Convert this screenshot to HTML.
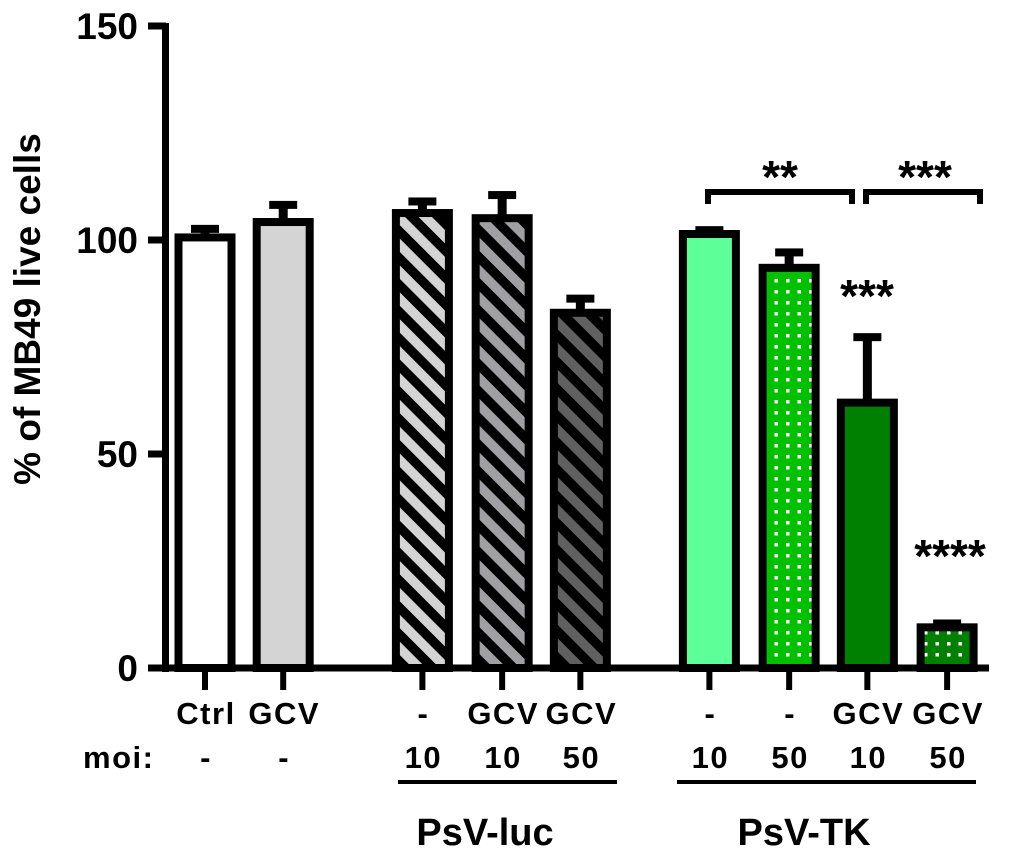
<!DOCTYPE html>
<html><head><meta charset="utf-8"><style>
html,body{margin:0;padding:0;background:#fff;}
svg text{font-family:"Liberation Sans",Arial,sans-serif;font-weight:bold;fill:#000;}
</style></head><body>
<svg id="chart" width="1024" height="862" viewBox="0 0 1024 862" xmlns="http://www.w3.org/2000/svg">
<defs>
<pattern id="hatch1" width="19" height="19" patternUnits="userSpaceOnUse" patternTransform="rotate(-45)"><rect width="19" height="19" fill="#d4d4d4"/><rect width="9.5" height="19" fill="#000"/></pattern>
<pattern id="hatch2" width="19" height="19" patternUnits="userSpaceOnUse" patternTransform="rotate(-45)"><rect width="19" height="19" fill="#a0a0a4"/><rect width="9.5" height="19" fill="#000"/></pattern>
<pattern id="hatch3" width="19" height="19" patternUnits="userSpaceOnUse" patternTransform="rotate(-45)"><rect width="19" height="19" fill="#606060"/><rect width="9.5" height="19" fill="#000"/></pattern>
<pattern id="dots1" width="11.5" height="11" patternUnits="userSpaceOnUse"><rect width="11.5" height="11" fill="#00c000"/><rect x="4" y="4" width="3.5" height="3.5" fill="#fff"/></pattern>
<pattern id="dots2" width="11.5" height="11" patternUnits="userSpaceOnUse"><rect width="11.5" height="11" fill="#008000"/><rect x="4" y="4" width="3.5" height="3.5" fill="#fff"/></pattern>
</defs>
<g id="bars"></g>
<g id="axes"></g>
<g id="labels"></g>
</svg>
<script>
const categories = ["Ctrl","GCV","luc-10","luc-GCV-10","luc-GCV-50","TK-10","TK-50","TK-GCV-10","TK-GCV-50"];
const values = [100.6, 104.2, 106.3, 105.1, 83.0, 101.4, 93.5, 62.0, 9.5];
const errors = [2.0, 4.0, 2.7, 5.4, 3.3, 0.9, 3.6, 15.3, 0.9];
const treatLabels = ["Ctrl","GCV","-","GCV","GCV","-","-","GCV","GCV"];
const moiLabels = ["-","-","10","10","50","10","50","10","50"];
const yTicks = [0, 50, 100, 150];
const fills = ["#ffffff","#d4d4d4","url(#hatch1)","url(#hatch2)","url(#hatch3)","#5cff98","url(#dots1)","#008000","url(#dots2)"];
const slots = [0, 1, 2.78, 3.8, 4.8, 6.45, 7.47, 8.47, 9.49];

const NS = "http://www.w3.org/2000/svg";
const y0 = 668, pxPerUnit = 642/150;
function yScale(v){ return y0 - v*pxPerUnit; }
function xScale(i){ return 205 + slots[i]*78.2; }
function mk(tag, attrs, parent){ const e=document.createElementNS(NS,tag); for(const k in attrs) e.setAttribute(k,attrs[k]); parent.appendChild(e); return e; }
const bars=document.getElementById('bars'), axes=document.getElementById('axes'), labels=document.getElementById('labels');
const bw = 53;
values.forEach((v,i)=>{
  const cx=xScale(i), yt=yScale(v);
  const eTop=yScale(v+errors[i]);
  const eb=mk('rect',{x:cx-4.5,y:eTop,width:9,height:yt-eTop},bars);
  
  
  const cap=mk('rect',{x:cx-14,y:eTop-4,width:28,height:8},bars);
  
  
  const r=mk('rect',{x:cx-bw/2,y:yt,width:bw,height:y0-yt,fill:fills[i],stroke:'#000','stroke-width':8},bars);
  
  
  const t=mk('rect',{x:cx-3,y:y0,width:6,height:22},axes);
  
  
  const l1=mk('text',{x:cx+1,y:724,'font-size':31,'text-anchor':'middle','letter-spacing':1.5},labels); l1.textContent=treatLabels[i];
  
  
  const l2=mk('text',{x:cx+1,y:768,'font-size':31,'text-anchor':'middle','letter-spacing':1.5},labels); l2.textContent=moiLabels[i];
  
  
});
const yl=mk('rect',{x:162,y:23,width:7,height:649},axes);


const xl=mk('rect',{x:162,y:y0-3.5,width:827,height:7},axes);


yTicks.forEach(v=>{
  const yy=yScale(v);
  const tk=mk('rect',{x:148,y:yy-3.5,width:18,height:7},axes);
  
  
  const tl=mk('text',{x:138,y:yy+13,'font-size':37,'text-anchor':'end'},labels); tl.textContent=v;
  
  
});
</script>
<svg style="position:absolute;left:0;top:0" width="1024" height="862" xmlns="http://www.w3.org/2000/svg">
<text x="0" y="0" font-size="37" text-anchor="middle" transform="translate(40,309) rotate(-90)" style="font-family:'Liberation Sans',sans-serif;font-weight:bold">% of MB49 live cells</text>
<text x="83" y="768" font-size="31" letter-spacing="1.5" style="font-family:'Liberation Sans',sans-serif;font-weight:bold">moi:</text>
<rect x="398" y="780" width="219" height="4" fill="#000"/>
<rect x="677" y="780" width="299" height="4" fill="#000"/>
<text x="485" y="845" font-size="38" text-anchor="middle" style="font-family:'Liberation Sans',sans-serif;font-weight:bold">PsV-luc</text>
<text x="804" y="845" font-size="38" text-anchor="middle" style="font-family:'Liberation Sans',sans-serif;font-weight:bold">PsV-TK</text>
<path d="M708,204 V192 H852 V204" fill="none" stroke="#000" stroke-width="6"/>
<path d="M866,204 V192 H980 V204" fill="none" stroke="#000" stroke-width="6"/>
<text x="780" y="193" font-size="46" text-anchor="middle" style="font-family:'Liberation Sans',sans-serif;font-weight:bold">**</text>
<text x="925" y="193" font-size="46" text-anchor="middle" style="font-family:'Liberation Sans',sans-serif;font-weight:bold">***</text>
<text x="867" y="312" font-size="46" text-anchor="middle" style="font-family:'Liberation Sans',sans-serif;font-weight:bold">***</text>
<text x="950" y="572" font-size="46" text-anchor="middle" style="font-family:'Liberation Sans',sans-serif;font-weight:bold">****</text>
</svg>
</body></html>
